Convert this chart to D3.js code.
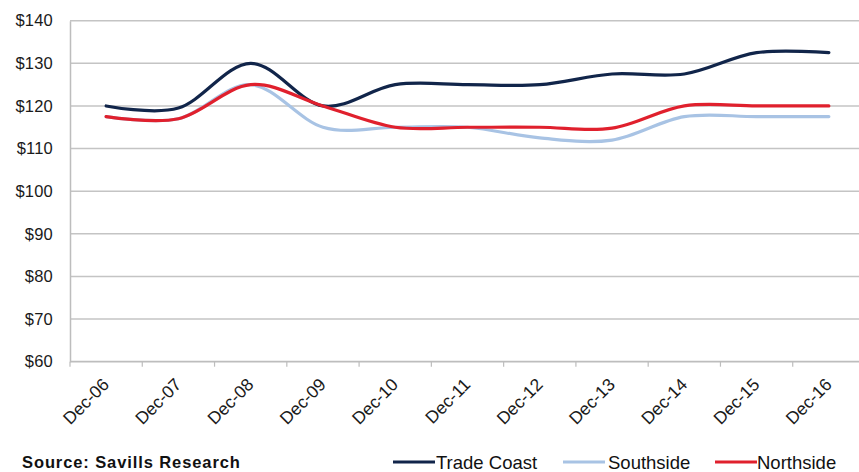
<!DOCTYPE html>
<html>
<head>
<meta charset="utf-8">
<script src="https://cdn.jsdelivr.net/npm/d3@7/dist/d3.min.js"></script>
<style>
  html, body { margin: 0; padding: 0; background: #fff; }
  svg { display: block; font-family: "Liberation Sans", Arial, sans-serif; }
</style>
</head>
<body>
<svg id="chart" width="859" height="472"></svg>
<script>
// Average rents ($/sqm) by precinct, December each year
const categories = ["Dec-06", "Dec-07", "Dec-08", "Dec-09", "Dec-10", "Dec-11",
                    "Dec-12", "Dec-13", "Dec-14", "Dec-15", "Dec-16"];
const tradeCoast = [120, 119.5, 130, 120, 125, 125, 125, 127.5, 127.5, 132.5, 132.5];
const southside  = [117.5, 117, 125, 115, 115, 115, 112.5, 112, 117.5, 117.5, 117.5];
const northside  = [117.5, 117, 125, 120, 115, 115, 115, 114.8, 120, 120, 120];
const yTicks = [60, 70, 80, 90, 100, 110, 120, 130, 140];
const seriesNames = ["Trade Coast", "Southside", "Northside"];
const seriesColors = ["#11254a", "#a8c3e4", "#e0202d"];
const sourceText = "Source: Savills Research";

const series = [tradeCoast, southside, northside].map((vals, i) => ({
  name: seriesNames[i], color: seriesColors[i], values: vals
}));

const svg = d3.select("#chart");
const plotLeft = 70, plotRight = 865, plotTop = 20.7, plotBottom = 361.7;

const x = d3.scaleBand().domain(categories).range([plotLeft, plotRight]).padding(0);
const y = d3.scaleLinear().domain([60, 140]).range([plotBottom, plotTop]);

// horizontal gridlines
svg.append("g").selectAll("line").data(yTicks.filter(t => t > 60)).join("line")
  .attr("x1", plotLeft).attr("x2", 859)
  .attr("y1", d => y(d)).attr("y2", d => y(d))
  .attr("stroke", "#c4c4c4").attr("stroke-width", 1.5);

// y axis
const yAxis = svg.append("g").attr("transform", `translate(${plotLeft},0)`)
  .call(d3.axisLeft(y).tickValues(yTicks).tickSize(0).tickPadding(17)
        .tickFormat(d => "$" + d));
yAxis.select(".domain").attr("stroke", "#bdbdbd").attr("stroke-width", 1.5);
yAxis.selectAll("text").attr("font-size", "16.5px").attr("fill", "#1a1a1a")
  .attr("letter-spacing", "0.2px").attr("font-family", "Liberation Sans, Arial, sans-serif");

// x axis with ticks on band boundaries
const xAxisG = svg.append("g").attr("transform", `translate(0,${plotBottom})`);
xAxisG.append("line").attr("x1", plotLeft).attr("x2", 859).attr("y1", 0).attr("y2", 0)
  .attr("stroke", "#bdbdbd").attr("stroke-width", 1.8);
xAxisG.selectAll("line.tick").data(categories).join("line").attr("class", "tick")
  .attr("x1", d => x(d)).attr("x2", d => x(d)).attr("y1", 0).attr("y2", 5)
  .attr("stroke", "#bdbdbd").attr("stroke-width", 1.2);
xAxisG.selectAll("text").data(categories).join("text")
  .attr("transform", d => `translate(${x(d) + x.bandwidth() / 2 + 4},24) rotate(-45)`)
  .attr("text-anchor", "end")
  .attr("font-size", "17.5px").attr("fill", "#1a1a1a")
  .text(d => d);

// smoothed series lines
const line = d3.line()
  .x((d, i) => x(categories[i]) + x.bandwidth() / 2)
  .y(d => y(d))
  .curve(d3.curveCardinal.tension(0));

svg.append("g").selectAll("path").data(series).join("path")
  .attr("d", d => line(d.values))
  .attr("fill", "none")
  .attr("stroke", d => d.color)
  .attr("stroke-width", 3.2)
  .attr("stroke-linecap", "round");

// legend
const legendX = [393, 563, 715];
const legend = svg.append("g").selectAll("g").data(series).join("g")
  .attr("transform", (d, i) => `translate(${legendX[i]},462)`);
legend.append("line").attr("x1", 0).attr("x2", 42).attr("y1", 0).attr("y2", 0)
  .attr("stroke", d => d.color).attr("stroke-width", 3.2);
legend.append("text").attr("x", (d, i) => i === 2 ? 42 : (i === 1 ? 45 : 43))
  .attr("y", 6.5).attr("font-size", "18.5px").attr("fill", "#111")
  .text(d => d.name);

// source note
svg.append("text").attr("x", 22).attr("y", 468)
  .attr("font-size", "16.5px").attr("font-weight", "bold").attr("fill", "#111")
  .attr("letter-spacing", "0.9px")
  .text(sourceText);
</script>
</body>
</html>
